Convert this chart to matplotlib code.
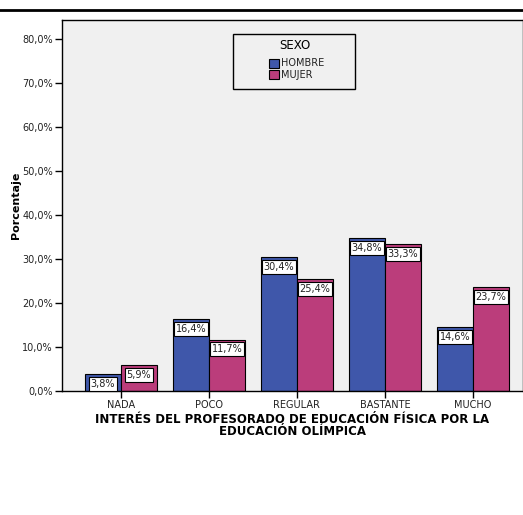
import numpy as np
import matplotlib.pyplot as plt
from matplotlib.lines import Line2D
from matplotlib.patches import Rectangle

categorias = ["NADA", "POCO", "REGULAR", "BASTANTE", "MUCHO"]
hombre = [3.8, 16.4, 30.4, 34.8, 14.6]
mujer = [5.9, 11.7, 25.4, 33.3, 23.7]
yticks = [0, 10, 20, 30, 40, 50, 60, 70, 80]

azul = "#3F57AA"
rosa = "#BB3D7B"
gris_txt = "#222222"

fig = plt.figure(figsize=(5.23, 5.15), dpi=100)
ax = fig.add_axes([0.1185, 0.2408, 0.8815, 0.7202])
ax.set_facecolor("#F0F0F0")

x = np.arange(len(categorias))
w = 0.41
b1 = ax.bar(x - w / 2, hombre, w, color=azul, edgecolor="black", linewidth=0.8)
b2 = ax.bar(x + w / 2, mujer, w, color=rosa, edgecolor="black", linewidth=0.8)

# etiquetas dentro de las barras
for barras, vals in [(b1, hombre), (b2, mujer)]:
    for r, v in zip(barras, vals):
        ax.annotate(f"{v:.1f}%".replace(".", ","),
                    (r.get_x() + r.get_width() / 2, v),
                    xytext=(0, -3.5), textcoords="offset points",
                    ha="center", va="top", fontsize=7, color=gris_txt,
                    bbox=dict(boxstyle="square,pad=0.2", fc="white", ec="black", lw=0.8))

ax.set_xlim(-0.67, 4.57)
ax.set_ylim(0, 84.3)
ax.set_xticks(x)
ax.set_xticklabels(categorias, fontsize=7, color=gris_txt)
ax.set_yticks(yticks)
ax.set_yticklabels([f"{t:.1f}%".replace(".", ",") for t in yticks], fontsize=7, color=gris_txt)
ax.tick_params(axis="both", length=5, width=1, direction="out", pad=1.5)
for s in ax.spines.values():
    s.set_linewidth(1)

ax.set_ylabel("Porcentaje", fontsize=8, fontweight="bold", labelpad=1)
ax.set_xlabel("INTERÉS DEL PROFESORADO DE EDUCACIÓN FÍSICA POR LA\nEDUCACIÓN OLÍMPICA",
              fontsize=8.5, fontweight="bold", linespacing=0.95, labelpad=2)

# leyenda dibujada a mano (caja ancha como en el original)
def fx(px):
    return (px - 62) / 461

def fy(py):
    return (391 - py) / 371

T = ax.transAxes
ax.add_patch(Rectangle((fx(233), fy(89)), fx(355) - fx(233), fy(34) - fy(89), transform=T,
                       facecolor="#F0F0F0", edgecolor="black", lw=1, zorder=5))
ax.text(fx(295), fy(45), "SEXO", transform=T, ha="center", va="center", fontsize=8.5, zorder=6)
for nombre, col, py in [("HOMBRE", azul, 63), ("MUJER", rosa, 74.5)]:
    ax.add_patch(Rectangle((fx(269), fy(py + 4.5)), fx(279) - fx(269), fy(py - 4.5) - fy(py + 4.5),
                           transform=T, facecolor=col, edgecolor="black", lw=0.8, zorder=6))
    ax.text(fx(281), fy(py), nombre, transform=T, ha="left", va="center", fontsize=7,
            color=gris_txt, zorder=6)

fig.add_artist(Line2D([0, 1], [0.981, 0.981], color="black", linewidth=2, transform=fig.transFigure))

fig.savefig("out.png", dpi=100)
